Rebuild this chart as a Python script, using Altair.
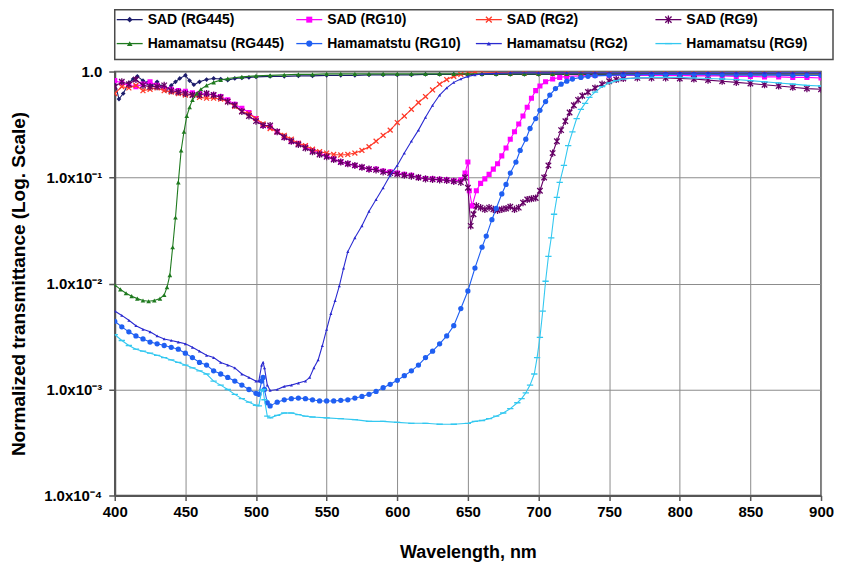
import altair as alt
import pandas as pd

FONT = "Liberation Sans"

# ---------------- data ----------------
names = ["SAD (RG445)", "SAD (RG10)", "SAD (RG2)", "SAD (RG9)",
         "Hamamatsu (RG445)", "Hamamatstu (RG10)", "Hamamatsu (RG2)", "Hamamatsu (RG9)"]

wl1 = [400, 403, 406, 410, 413, 416, 420, 423, 426, 430,
       433, 436, 440, 443, 446, 450, 453, 456, 460, 465,
       470, 475, 480, 485, 490, 495, 500, 510, 520, 530,
       540, 550, 560, 570, 580, 590, 600, 610, 620, 630,
       640, 650, 660, 670, 680, 690, 700, 710, 720, 730,
       740, 750, 760, 770, 780, 790, 800, 810, 820, 830,
       840, 850, 860, 870, 880, 890, 900]
t1 = [0.80, 0.55, 0.62, 0.78, 0.85, 0.90, 0.82, 0.78, 0.74, 0.80,
      0.72, 0.66, 0.74, 0.80, 0.86, 0.92, 0.82, 0.75, 0.80, 0.84,
      0.86, 0.85, 0.83, 0.86, 0.87, 0.88, 0.89, 0.90, 0.90, 0.91,
      0.91, 0.92, 0.92, 0.92, 0.93, 0.93, 0.93, 0.93, 0.94, 0.94,
      0.94, 0.94, 0.94, 0.94, 0.94, 0.94, 0.94, 0.94, 0.94, 0.94,
      0.94, 0.94, 0.94, 0.94, 0.94, 0.93, 0.93, 0.93, 0.93, 0.93,
      0.93, 0.93, 0.93, 0.93, 0.92, 0.92, 0.92]

wl2 = [400, 405, 410, 415, 420, 425, 430, 435, 440, 445,
       450, 455, 460, 465, 470, 475, 480, 485, 490, 495,
       500, 505, 510, 515, 520, 525, 530, 535, 540, 545,
       550, 555, 560, 565, 570, 575, 580, 585, 590, 595,
       600, 605, 610, 615, 620, 625, 630, 635, 640, 645,
       648, 650, 651, 653, 656, 659, 662, 665, 668, 671,
       674, 677, 680, 683, 686, 689, 692, 695, 698, 701,
       705, 710, 715, 720, 730, 740, 750, 760, 770, 780,
       790, 800, 810, 820, 830, 840, 850, 860, 870, 880,
       890, 900]
t2 = [0.82, 0.78, 0.74, 0.72, 0.76, 0.80, 0.74, 0.70, 0.68, 0.66,
      0.65, 0.63, 0.62, 0.61, 0.60, 0.58, 0.54, 0.49, 0.45, 0.41,
      0.36, 0.31, 0.30, 0.27, 0.24, 0.22, 0.21, 0.195, 0.18, 0.17,
      0.16, 0.15, 0.14, 0.135, 0.13, 0.125, 0.12, 0.12, 0.115, 0.113,
      0.11, 0.107, 0.105, 0.10, 0.098, 0.097, 0.096, 0.095, 0.093, 0.095,
      0.11, 0.14, 0.075, 0.054, 0.075, 0.088, 0.097, 0.107, 0.12, 0.135,
      0.16, 0.19, 0.23, 0.27, 0.32, 0.38, 0.46, 0.56, 0.66, 0.73,
      0.80, 0.85, 0.88, 0.90, 0.91, 0.92, 0.92, 0.92, 0.92, 0.92,
      0.92, 0.92, 0.91, 0.91, 0.91, 0.90, 0.90, 0.89, 0.89, 0.88,
      0.88, 0.87]

wl3 = [400, 405, 410, 415, 420, 425, 430, 435, 440, 445,
       450, 455, 460, 465, 470, 475, 480, 485, 490, 495,
       500, 505, 510, 515, 520, 525, 530, 535, 540, 545,
       550, 555, 560, 565, 570, 575, 580, 585, 590, 595,
       600, 605, 610, 615, 620, 625, 630, 635, 640, 645,
       650, 655, 660, 670, 680, 690, 700, 710, 720, 730,
       740, 750, 760, 770, 780, 790, 800, 810, 820, 830,
       840, 850, 860, 870, 880, 890, 900]
t3 = [0.62, 0.72, 0.70, 0.74, 0.66, 0.68, 0.70, 0.66, 0.64, 0.62,
      0.60, 0.60, 0.57, 0.56, 0.56, 0.55, 0.52, 0.47, 0.42, 0.40,
      0.36, 0.32, 0.29, 0.27, 0.25, 0.23, 0.21, 0.20, 0.185, 0.175,
      0.17, 0.165, 0.163, 0.165, 0.17, 0.18, 0.195, 0.22, 0.25, 0.28,
      0.33, 0.38, 0.44, 0.51, 0.58, 0.67, 0.76, 0.84, 0.90, 0.94,
      0.97, 1.00, 0.99, 0.98, 0.97, 0.97, 0.97, 0.97, 0.97, 0.96,
      0.96, 0.96, 0.96, 0.96, 0.96, 0.96, 0.96, 0.96, 0.96, 0.95,
      0.95, 0.95, 0.95, 0.95, 0.95, 0.95, 0.95]

wl4 = [400, 405, 410, 415, 420, 425, 430, 435, 440, 445,
       450, 455, 460, 465, 470, 475, 480, 485, 490, 495,
       500, 505, 510, 515, 520, 525, 530, 535, 540, 545,
       550, 555, 560, 565, 570, 575, 580, 585, 590, 595,
       600, 605, 610, 615, 620, 625, 630, 635, 640, 645,
       648, 650, 652, 654, 656, 659, 662, 665, 668, 671,
       674, 677, 680, 683, 686, 689, 692, 695, 698, 701,
       704, 707, 710, 713, 716, 719, 722, 725, 728, 731,
       735, 740, 745, 750, 755, 760, 770, 780, 790, 800,
       810, 820, 830, 840, 850, 860, 870, 880, 890, 900]
t4 = [0.72, 0.80, 0.76, 0.84, 0.74, 0.72, 0.72, 0.74, 0.66, 0.64,
      0.62, 0.60, 0.60, 0.62, 0.60, 0.57, 0.52, 0.48, 0.42, 0.38,
      0.34, 0.31, 0.31, 0.27, 0.24, 0.22, 0.205, 0.19, 0.175, 0.165,
      0.157, 0.148, 0.14, 0.135, 0.13, 0.125, 0.12, 0.118, 0.113, 0.11,
      0.108, 0.105, 0.103, 0.10, 0.097, 0.096, 0.095, 0.094, 0.092, 0.09,
      0.10, 0.08, 0.035, 0.045, 0.054, 0.052, 0.05, 0.052, 0.05, 0.049,
      0.05, 0.051, 0.053, 0.05, 0.052, 0.058, 0.062, 0.063, 0.064, 0.075,
      0.10, 0.13, 0.17, 0.22, 0.28, 0.34, 0.41, 0.48, 0.54, 0.59,
      0.64, 0.70, 0.76, 0.81, 0.84, 0.86, 0.87, 0.87, 0.87, 0.86,
      0.85, 0.83, 0.81, 0.79, 0.77, 0.75, 0.73, 0.71, 0.69, 0.68]

wl5 = [400, 404, 408, 412, 416, 420, 424, 428, 432, 435,
       437, 439, 441, 443, 445, 447, 449, 451, 453, 455,
       458, 461, 465, 470, 475, 480, 490, 500, 510, 520,
       530, 540, 550, 560, 570, 580, 590, 600, 610, 620,
       630, 640, 650, 660, 670, 680, 690, 700, 710, 720,
       730, 740, 750, 760, 770, 780, 790, 800, 810, 820,
       830, 840, 850, 860, 870, 880, 890, 900]
t5 = [0.0097, 0.0088, 0.0081, 0.0076, 0.0072, 0.0069, 0.0068, 0.0069, 0.0072, 0.0078,
      0.0092, 0.012, 0.022, 0.042, 0.09, 0.18, 0.27, 0.38, 0.46, 0.54,
      0.62, 0.68, 0.74, 0.79, 0.83, 0.86, 0.89, 0.91, 0.92, 0.93,
      0.94, 0.94, 0.95, 0.95, 0.95, 0.95, 0.95, 0.95, 0.95, 0.95,
      0.95, 0.95, 0.95, 0.95, 0.95, 0.95, 0.95, 0.95, 0.95, 0.95,
      0.95, 0.95, 0.95, 0.95, 0.95, 0.95, 0.95, 0.95, 0.95, 0.95,
      0.95, 0.95, 0.95, 0.95, 0.95, 0.95, 0.95, 0.95]

wl6 = [400, 405, 410, 415, 420, 425, 430, 435, 440, 445,
       450, 455, 460, 465, 470, 475, 480, 485, 490, 495,
       500, 502, 504, 505, 506, 508, 510, 515, 520, 525,
       530, 535, 540, 545, 550, 555, 560, 565, 570, 575,
       580, 585, 590, 595, 600, 605, 610, 615, 620, 625,
       630, 635, 640, 645, 650, 655, 660, 663, 667, 670,
       674, 677, 680, 684, 687, 691, 694, 698, 701, 705,
       708, 712, 716, 720, 724, 730, 735, 740, 750, 760,
       770, 780, 790, 800, 810, 820, 830, 840, 850, 860,
       870, 880, 890, 900]
t6 = [0.0044, 0.0039, 0.0035, 0.0032, 0.0030, 0.0028, 0.0027, 0.0026, 0.0025, 0.0024,
      0.0022, 0.0020, 0.0018, 0.0017, 0.0015, 0.0014, 0.0013, 0.0012, 0.0011, 0.0010,
      0.00092, 0.0009, 0.0012, 0.0013, 0.0010, 0.00075, 0.0007, 0.00076, 0.0008, 0.00082,
      0.00083, 0.00082, 0.0008, 0.00078, 0.00078, 0.00078, 0.00079, 0.0008, 0.00083, 0.00086,
      0.0009, 0.00096, 0.00104, 0.00112, 0.00122, 0.00135, 0.0015, 0.0017, 0.0020, 0.0023,
      0.0027, 0.0032, 0.0040, 0.0058, 0.0085, 0.014, 0.022, 0.028, 0.04, 0.051,
      0.07, 0.086, 0.11, 0.14, 0.18, 0.23, 0.29, 0.36, 0.43, 0.52,
      0.60, 0.69, 0.76, 0.81, 0.85, 0.88, 0.90, 0.91, 0.92, 0.93,
      0.93, 0.94, 0.94, 0.94, 0.94, 0.94, 0.93, 0.93, 0.93, 0.93,
      0.93, 0.92, 0.92, 0.92]

wl7 = [400, 405, 410, 415, 420, 425, 430, 435, 440, 445,
       450, 455, 460, 465, 470, 475, 480, 485, 490, 495,
       500, 502, 504, 505, 506, 508, 510, 515, 520, 525,
       530, 535, 538, 541, 544, 547, 550, 553, 556, 559,
       562, 565, 570, 575, 580, 585, 590, 595, 600, 605,
       610, 615, 620, 625, 630, 635, 640, 645, 650, 655,
       660, 670, 680, 700, 720, 740, 760, 780, 800, 820,
       840, 860, 880, 900]
t7 = [0.0055, 0.0050, 0.0045, 0.0040, 0.0037, 0.0035, 0.0032, 0.0030, 0.0029, 0.0028,
      0.0027, 0.0025, 0.0023, 0.0021, 0.0020, 0.0018, 0.0017, 0.0016, 0.0014, 0.0013,
      0.0012, 0.0012, 0.0017, 0.0018, 0.0016, 0.0011, 0.00098, 0.0010, 0.00107, 0.0011,
      0.00115, 0.0012, 0.0013, 0.0016, 0.0019, 0.0026, 0.0037, 0.0052, 0.0069, 0.0095,
      0.014, 0.020, 0.027, 0.035, 0.048, 0.062, 0.080, 0.105, 0.13, 0.17,
      0.22, 0.28, 0.37, 0.48, 0.60, 0.70, 0.79, 0.85, 0.90, 0.93,
      0.95, 0.96, 0.97, 0.97, 0.97, 0.97, 0.97, 0.97, 0.97, 0.97,
      0.97, 0.97, 0.97, 0.97]

wl8 = [400, 405, 410, 415, 420, 425, 430, 435, 440, 445,
       450, 455, 460, 465, 470, 475, 480, 485, 490, 495,
       500, 502, 504, 505, 506, 508, 510, 515, 520, 525,
       530, 535, 540, 550, 560, 570, 580, 590, 600, 610,
       620, 630, 640, 650, 655, 660, 665, 670, 675, 680,
       685, 688, 691, 694, 697, 699, 701, 703, 705, 707,
       709, 711, 713, 715, 718, 721, 724, 727, 730, 733,
       736, 740, 745, 750, 755, 760, 770, 780, 790, 800,
       810, 820, 830, 840, 850, 860, 870, 880, 890, 900]
t8 = [0.0033, 0.0029, 0.0026, 0.0024, 0.0023, 0.0022, 0.0021, 0.0020, 0.0019, 0.0018,
      0.0017, 0.0016, 0.0015, 0.0014, 0.0012, 0.0011, 0.0010, 0.0009, 0.00082, 0.00076,
      0.00071, 0.0007, 0.00097, 0.0010, 0.0008, 0.00056, 0.00054, 0.00057, 0.0006, 0.0006,
      0.00058, 0.00056, 0.00055, 0.00054, 0.00053, 0.00052, 0.0005, 0.0005, 0.00049, 0.00048,
      0.00048, 0.00047, 0.00047, 0.00048, 0.0005, 0.00051, 0.00053, 0.00056, 0.0006, 0.00066,
      0.00075, 0.00082, 0.00093, 0.0011, 0.0014, 0.0020, 0.0031, 0.0055, 0.0105, 0.018,
      0.027, 0.045, 0.065, 0.09, 0.13, 0.20, 0.27, 0.36, 0.44, 0.50,
      0.57, 0.64, 0.72, 0.78, 0.82, 0.85, 0.87, 0.88, 0.88, 0.88,
      0.87, 0.86, 0.85, 0.84, 0.82, 0.80, 0.78, 0.76, 0.74, 0.73]

wavelengths = [wl1, wl2, wl3, wl4, wl5, wl6, wl7, wl8]
transmittances = [t1, t2, t3, t4, t5, t6, t7, t8]

x_ticks = [400, 450, 500, 550, 600, 650, 700, 750, 800, 850, 900]
y_ticks = [0.0001, 0.001, 0.01, 0.1, 1.0]
y_tick_labels = ["1.0x10\u207b\u2074", "1.0x10\u207b\u00b3", "1.0x10\u207b\u00b2",
                 "1.0x10\u207b\u00b9", "1.0"]

legend_cols = [0, 1, 2, 3, 0, 1, 2, 3]
legend_rows = [0, 0, 0, 0, 1, 1, 1, 1]

# ---------------- styles ----------------
colors = ["#1c1c6b", "#ff00ff", "#ff3a2a", "#660066",
          "#1f7a1f", "#1f5ff2", "#2a2ad0", "#33c8f0"]
CROSS = "M-1,-1L1,1M-1,1L1,-1"
STAR = "M-1,-1L1,1M-1,1L1,-1M0,-1.3L0,1.3"
shapes = ["diamond", "square", CROSS, STAR, "triangle-up", "circle", "triangle-up", "stroke"]
filled = [True, True, False, False, True, True, True, False]
sizes = [22, 26, 24, 30, 22, 28, 10, 40]

# y label expression
expr = "'" + y_tick_labels[-1] + "'"
for v, lab in reversed(list(zip(y_ticks[:-1], y_tick_labels[:-1]))):
    expr = f"datum.value < {v * 3} ? '{lab}' : " + expr

X = alt.X("wl:Q", scale=alt.Scale(domain=[400, 900], nice=False, zero=False),
          axis=alt.Axis(values=x_ticks, title="Wavelength, nm", grid=True,
                        labelFontSize=15, titleFontSize=18, tickSize=5,
                        labelPadding=4, titlePadding=24, labelFlush=False))
Y = alt.Y("t:Q", scale=alt.Scale(type="log", domain=[0.0001, 1.0], nice=False),
          axis=alt.Axis(values=y_ticks, labelExpr=expr,
                        title="Normalized transmittance (Log. Scale)", grid=True,
                        labelFontSize=15, titleFontSize=19, tickSize=6,
                        labelPadding=7, titlePadding=15, labelFlush=False))

layers = []
for i in range(8):
    df = pd.DataFrame({"wl": wavelengths[i], "t": transmittances[i]})
    base = alt.Chart(df)
    layers.append(base.mark_line(color=colors[i], strokeWidth=1.1, clip=True).encode(x=X, y=Y))
    layers.append(base.mark_point(shape=shapes[i], filled=filled[i], size=sizes[i],
                                  color=colors[i], opacity=1, strokeWidth=1.3,
                                  clip=True).encode(x=X, y=Y))

main = alt.layer(*layers).properties(width=708, height=425)

# ---------------- legend panel ----------------
LX = alt.X("col:Q", scale=alt.Scale(domain=[-0.0111, 3.9889], nice=False, zero=False), axis=None)
LY = alt.Y("row:Q", scale=alt.Scale(domain=[-0.4167, 1.6667], nice=False, zero=False,
                                    reverse=True), axis=None)
leg_layers = []
for i in range(8):
    ldf = pd.DataFrame({"col": [legend_cols[i]], "row": [legend_rows[i]], "name": [names[i]]})
    lb = alt.Chart(ldf)
    leg_layers.append(lb.mark_point(shape="stroke", size=676, color=colors[i], strokeWidth=1.3,
                                    xOffset=13, opacity=1).encode(x=LX, y=LY))
    leg_layers.append(lb.mark_point(shape=shapes[i], filled=filled[i], size=sizes[i] + 10,
                                    color=colors[i], strokeWidth=1.3, xOffset=13,
                                    opacity=1).encode(x=LX, y=LY))
    leg_layers.append(lb.mark_text(align="left", baseline="middle", dx=31, font=FONT,
                                   fontWeight="bold", fontSize=14, color="black")
                      .encode(x=LX, y=LY, text="name:N"))

legend = alt.layer(*leg_layers).properties(width=720, height=50)

chart = (alt.vconcat(legend, main, spacing=12, padding=0, bounds="flush")
         .configure_view(stroke="#4a4a4a", strokeWidth=1.5)
         .configure_axis(labelFont=FONT, titleFont=FONT, labelFontWeight="bold",
                         titleFontWeight="bold", labelColor="black", titleColor="black",
                         gridColor="#8c8c8c", gridWidth=1, domainColor="#555555",
                         domainWidth=2, tickColor="#555555", tickWidth=1.5))

chart.save("out.html", embed_options={"renderer": "svg", "actions": False})
